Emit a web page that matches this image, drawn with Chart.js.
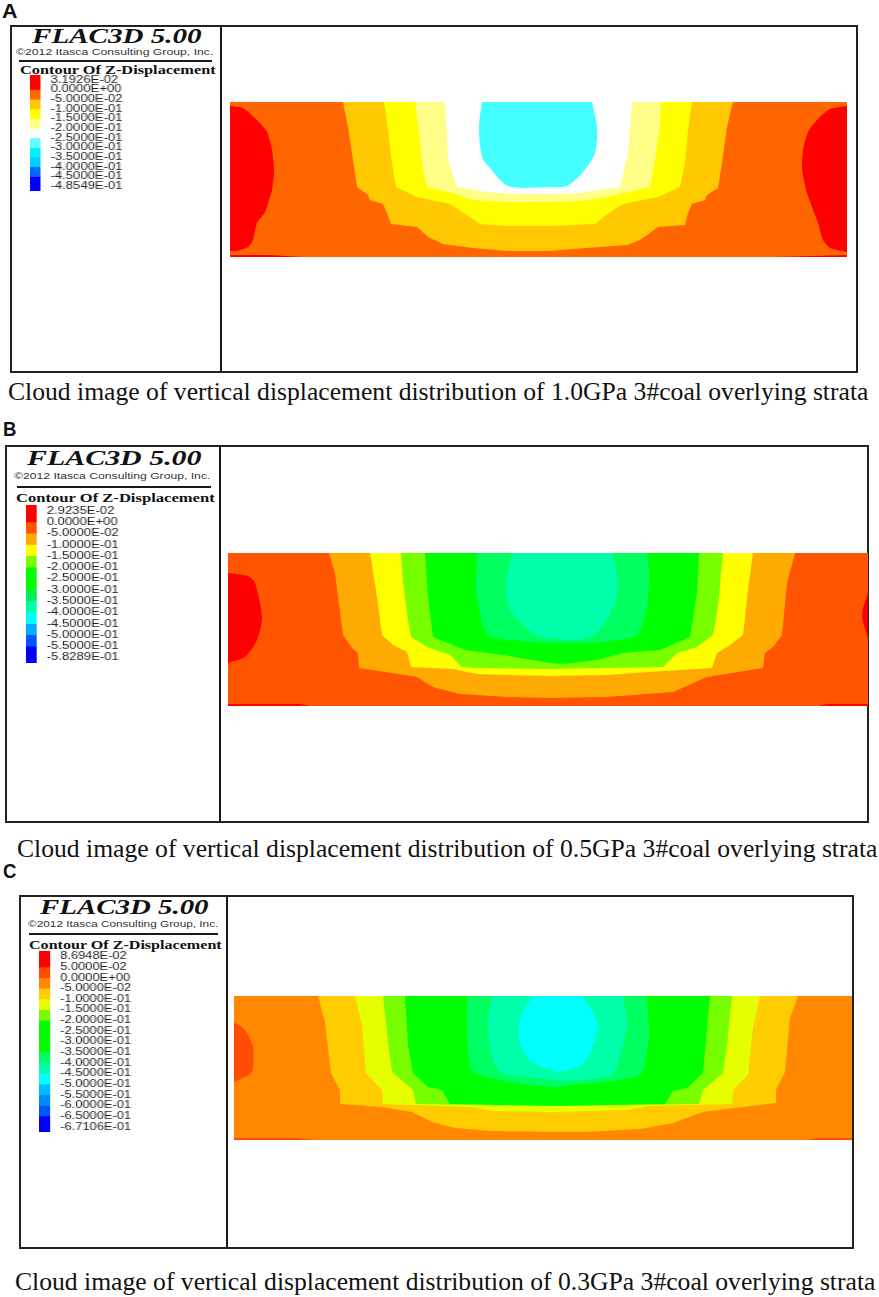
<!DOCTYPE html>
<html>
<head>
<meta charset="utf-8">
<script src="https://cdn.jsdelivr.net/npm/chart.js@4"></script>
<style>
body { margin: 0; background: #fff; }
#page { position: relative; width: 879px; height: 1297px; overflow: hidden; }
.txt { position: absolute; white-space: nowrap; line-height: 1; transform-origin: left center; color: #111; }
.letter { font: bold 20px "Liberation Sans"; }
.flac { font: italic bold 20px "Liberation Serif"; }
.copy { font: 9.5px "Liberation Sans"; color: #333; }
.head { font: bold 11.5px "Liberation Serif"; }
.caption { font: 25px "Liberation Serif"; }
.line { position: absolute; background: #1a1a1a; }
.frame { position: absolute; border: 2px solid #222; box-sizing: border-box; }
.wrap { position: absolute; transform-origin: left top; }
.plot { position: absolute; }
</style>
</head>
<body>
<div id="page"></div>
<script>
// LEGEND LABELS AND COLOURS
const labelsA = ['3.1926E-02','0.0000E+00','-5.0000E-02','-1.0000E-01','-1.5000E-01','-2.0000E-01','-2.5000E-01','-3.0000E-01','-3.5000E-01','-4.0000E-01','-4.5000E-01','-4.8549E-01'];
const coloursA = ['#ff0000','#ff6600','#ffc800','#ffff00','#ffff88','#ffffff','#66ffff','#00f0ff','#00ccff','#0066ff','#0000ff'];
const labelsB = ['2.9235E-02','0.0000E+00','-5.0000E-02','-1.0000E-01','-1.5000E-01','-2.0000E-01','-2.5000E-01','-3.0000E-01','-3.5000E-01','-4.0000E-01','-4.5000E-01','-5.0000E-01','-5.5000E-01','-5.8289E-01'];
const coloursB = ['#ff0000','#ff5500','#ffaa00','#ffff00','#77ff00','#00ff00','#00ff00','#00ee55','#00ffaa','#00ffff','#00aaff','#0055ff','#0000ff'];
const labelsC = ['8.6948E-02','5.0000E-02','0.0000E+00','-5.0000E-02','-1.0000E-01','-1.5000E-01','-2.0000E-01','-2.5000E-01','-3.0000E-01','-3.5000E-01','-4.0000E-01','-4.5000E-01','-5.0000E-01','-5.5000E-01','-6.0000E-01','-6.5000E-01','-6.7106E-01'];
const coloursC = ['#ff0000','#ff4c00','#ff8800','#ffcc00','#e6ff00','#77ff00','#00ff00','#00ff00','#00ff00','#00ff60','#00ffaa','#00ffff','#00bbff','#0088ff','#0055ff','#0000ff'];

// CONTOUR OUTLINES, panel A (model width 617, depth 155)
const a_base = [[0,0],[617,0],[617,155],[0,155]];
const a_amber = [[113,0],[118,25],[123,58],[127,85],[138,93],[140,98],[153,102],[157,111],[161,122],[187,125],[198,135],[213,142],[243,146],[277,149],[320,149],[343,147],[397,143],[410,138],[428,125],[455,123],[458,111],[462,102],[475,98],[477,93],[488,86],[492,61],[497,25],[503,0]];
const a_yellow = [[154,0],[158,28],[162,61],[166,85],[187,95],[220,102],[237,113],[250,122],[277,124],[320,124],[365,122],[380,110],[393,102],[428,95],[450,85],[455,61],[458,28],[462,0]];
const a_pale = [[185,0],[190,38],[193,68],[197,85],[223,91],[243,98],[277,100],[320,100],[353,99],[377,95],[420,85],[425,58],[430,21],[431,0]];
const a_white = [[215,0],[217,35],[218,58],[227,85],[257,90],[290,92],[320,92],[350,91],[390,85],[398,51],[402,0]];
const a_cyan = [[252,0],[249,25],[252,55],[260,66],[278,84],[320,85],[337,84],[353,70],[365,51],[367,25],[362,0]];
const a_redL = [[0,4],[13,6],[27,18],[37,30],[42,48],[44,68],[42,88],[35,110],[27,121],[23,138],[18,145],[7,149],[0,149]];
const a_redR = [[617,4],[600,7],[587,18],[578,30],[573,48],[572,68],[577,91],[588,121],[593,138],[600,146],[617,150]];
const a_stripL = [[0,153],[40,153],[73,155],[0,155]];
const a_stripR = [[545,155],[617,153],[617,155]];

// panel B (model width 640, depth 153)
const b_base = [[0,0],[640,0],[640,153],[0,153]];
const b_amber = [[101,0],[107,20],[110,44],[115,82],[124,95],[130,100],[131,115],[157,119],[189,124],[205,134],[232,141],[279,144],[322,145],[379,144],[445,139],[479,124],[510,119],[535,115],[537,100],[545,94],[554,82],[559,30],[567,0]];
const b_yellow = [[142,0],[149,44],[154,82],[165,92],[179,99],[183,114],[225,116],[249,121],[279,122],[322,123],[379,122],[420,119],[484,115],[489,100],[502,92],[515,82],[520,37],[525,0]];
const b_lime = [[173,0],[175,30],[180,67],[183,84],[199,94],[222,102],[234,114],[249,115],[322,116],[435,114],[449,100],[469,94],[485,82],[490,54],[495,0]];
const b_green = [[197,0],[200,44],[205,84],[237,97],[275,102],[322,110],[335,111],[369,107],[395,100],[432,97],[462,84],[469,40],[471,0]];
const b_spring = [[249,0],[248,37],[255,74],[262,84],[322,90],[372,89],[409,82],[419,54],[421,20],[419,0]];
const b_mint = [[284,0],[278,30],[282,57],[299,75],[312,84],[362,84],[385,55],[390,30],[384,0]];
const b_redL = [[0,20],[20,23],[27,30],[34,64],[29,87],[17,104],[0,110]];
const b_redR = [[640,40],[634,62],[640,85]];
const b_stripL = [[0,151],[72,151],[82,153],[0,153]];
const b_stripR = [[599,151],[640,151],[640,153],[590,153]];

// panel C (model width 618, depth 144)
const c_base = [[0,0],[618,0],[618,144],[0,144]];
const c_amber = [[84,0],[91,26],[97,77],[106,94],[106,108],[148,111],[178,116],[198,126],[221,132],[258,135],[321,136],[349,136],[406,133],[439,127],[469,116],[501,112],[542,107],[542,94],[551,76],[556,22],[564,0]];
const c_yellow = [[121,0],[128,29],[132,77],[148,94],[149,108],[238,111],[258,115],[321,116],[393,114],[413,110],[498,108],[499,94],[514,79],[519,32],[526,0]];
const c_lime = [[149,0],[154,46],[158,76],[171,87],[179,94],[182,108],[321,110],[465,108],[469,94],[489,77],[493,49],[498,0]];
const c_green = [[171,0],[174,49],[179,77],[194,91],[208,94],[216,108],[321,110],[431,108],[439,95],[453,92],[469,77],[476,0]];
const c_spring = [[233,0],[233,29],[238,74],[274,86],[321,91],[339,89],[386,84],[408,77],[415,39],[413,0]];
const c_mint = [[258,0],[254,29],[258,62],[268,77],[321,84],[346,84],[379,78],[389,49],[393,26],[389,0]];
const c_cyan = [[299,0],[286,22],[286,46],[298,66],[321,75],[324,76],[349,67],[361,44],[363,26],[349,0]];
const c_redL = [[0,26],[11,34],[19,51],[19,72],[16,78],[0,86]];
const c_stripL = [[0,142],[63,142],[81,144],[0,144]];
const c_stripR = [[583,142],[618,142],[618,144],[575,144]];

const page = document.getElementById('page');

function addText(str, cls, x, cy, w) {
    const el = document.createElement('div');
    el.className = 'txt ' + cls;
    el.textContent = str;
    el.style.left = x + 'px';
    page.appendChild(el);
    el.style.top = (cy - el.offsetHeight / 2) + 'px';
    el.style.transform = 'scaleX(' + (w / el.offsetWidth) + ')';
}

function addFrame(l, t, r, b, div) {
    const f = document.createElement('div');
    f.className = 'frame';
    f.style.cssText = 'left:' + l + 'px;top:' + t + 'px;width:' + (r - l) + 'px;height:' + (b - t) + 'px';
    page.appendChild(f);
    const d = document.createElement('div');
    d.className = 'line';
    d.style.cssText = 'left:' + div + 'px;top:' + t + 'px;width:2px;height:' + (b - t) + 'px';
    page.appendChild(d);
}

function addRule(x1, x2, y) {
    const d = document.createElement('div');
    d.className = 'line';
    d.style.cssText = 'left:' + x1 + 'px;top:' + y + 'px;width:' + (x2 - x1) + 'px;height:1.5px';
    page.appendChild(d);
}

// contour plot: filled closed shapes painted back to front
// third item of a band, when there, rounds the outline
function drawContours(left, top, w, h, bands) {
    const c = document.createElement('canvas');
    c.className = 'plot';
    c.style.left = left + 'px';
    c.style.top = top + 'px';
    c.width = w;
    c.height = h;
    page.appendChild(c);
    new Chart(c, {
        type: 'scatter',
        data: {
            datasets: bands.map((b, i) => ({
                data: b[0].map(p => ({ x: p[0], y: p[1] })),
                backgroundColor: b[1],
                borderWidth: 0,
                pointRadius: 0,
                showLine: true,
                tension: b[2] || 0,
                fill: 'shape',
                order: -i
            }))
        },
        options: {
            responsive: false,
            animation: false,
            layout: { padding: 0 },
            plugins: { legend: { display: false }, tooltip: { enabled: false } },
            scales: {
                x: { type: 'linear', display: false, min: 0, max: w },
                y: { type: 'linear', display: false, min: 0, max: h, reverse: true }
            }
        }
    });
}

// colour key: floating bars between label rows, labels on the y axis
function drawKey(left, top, height, labels, colours, fontSize, stretch) {
    const swatch = 11 / stretch;
    const axisW = 90;
    const wrap = document.createElement('div');
    wrap.className = 'wrap';
    wrap.style.left = left + 'px';
    wrap.style.top = (top - 8) + 'px';
    wrap.style.transform = 'scaleX(' + stretch + ')';
    const c = document.createElement('canvas');
    c.width = Math.round(swatch + axisW);
    c.height = height + 16;
    wrap.appendChild(c);
    page.appendChild(wrap);
    const last = labels.length - 1;
    new Chart(c, {
        type: 'bar',
        data: {
            labels: [''],
            datasets: colours.map((col, i) => ({
                data: [[i === 0 ? -0.5 : i, i === colours.length - 1 ? last + 0.5 : i + 1]],
                backgroundColor: col,
                borderWidth: 0,
                barPercentage: 1,
                categoryPercentage: 1
            }))
        },
        options: {
            responsive: false,
            animation: false,
            layout: { padding: { top: 8, bottom: 8 } },
            plugins: { legend: { display: false }, tooltip: { enabled: false } },
            scales: {
                x: { stacked: true, display: false },
                y: {
                    position: 'right',
                    reverse: true,
                    min: -0.5,
                    max: last + 0.5,
                    grid: { display: false, drawTicks: false },
                    border: { display: false },
                    afterFit: s => { s.width = axisW; s.paddingTop = 0; s.paddingBottom = 0; },
                    afterBuildTicks: s => { s.ticks = labels.map((l, i) => ({ value: i })); },
                    ticks: {
                        autoSkip: false,
                        padding: 10 / stretch,
                        color: '#222',
                        font: { family: 'Liberation Sans', size: fontSize },
                        callback: v => labels[v]
                    }
                }
            }
        }
    });
}

// PANEL A
addText('A', 'letter', 2, 11, 15);
addFrame(10, 25, 858, 373, 220);
addText('FLAC3D 5.00', 'flac', 32, 36, 170);
addText('©2012 Itasca Consulting Group, Inc.', 'copy', 16, 51, 197);
addRule(19, 212, 60);
addText('Contour Of Z-Displacement', 'head', 20, 70, 196);
drawKey(30, 75, 116, labelsA, coloursA, 10, 1.31);
drawContours(230, 102, 617, 155, [
    [a_base, '#ff6600'], [a_amber, '#ffc800'], [a_yellow, '#ffff00'], [a_pale, '#ffff88'],
    [a_white, '#ffffff'], [a_cyan, '#44ffff', 0.3], [a_redL, '#ff0000', 0.2], [a_redR, '#ff0000', 0.2],
    [a_stripL, '#ff0000'], [a_stripR, '#ff0000']
]);
addText('Cloud image of vertical displacement distribution of 1.0GPa 3#coal overlying strata', 'caption', 8, 391.5, 860);

// PANEL B
addText('B', 'letter', 3, 429.5, 13);
addFrame(5, 445, 869, 823, 219);
addText('FLAC3D 5.00', 'flac', 27, 458, 175);
addText('©2012 Itasca Consulting Group, Inc.', 'copy', 14, 475, 196);
addRule(17, 211, 486);
addText('Contour Of Z-Displacement', 'head', 16, 498, 199);
drawKey(25.5, 505, 158, labelsB, coloursB, 11, 1.19);
drawContours(228, 553, 640, 153, [
    [b_base, '#ff5500'], [b_amber, '#ffaa00'], [b_yellow, '#ffff00'], [b_lime, '#77ff00'],
    [b_green, '#00ff00'], [b_spring, '#00ff60', 0.2], [b_mint, '#00ffaa', 0.3], [b_redL, '#ff0000', 0.25],
    [b_redR, '#ff0000', 0.3], [b_stripL, '#ff0000'], [b_stripR, '#ff0000']
]);
addText('Cloud image of vertical displacement distribution of 0.5GPa 3#coal overlying strata', 'caption', 17, 849, 860);

// PANEL C
addText('C', 'letter', 3, 871, 13);
addFrame(19, 895, 854, 1249, 226);
addText('FLAC3D 5.00', 'flac', 40, 907, 169);
addText('©2012 Itasca Consulting Group, Inc.', 'copy', 28, 923, 190);
addRule(29, 218, 933);
addText('Contour Of Z-Displacement', 'head', 29, 945, 193);
drawKey(39, 951, 181, labelsC, coloursC, 10.5, 1.23);
drawContours(234, 996, 618, 144, [
    [c_base, '#ff8800'], [c_amber, '#ffcc00'], [c_yellow, '#e6ff00'], [c_lime, '#77ff00'],
    [c_green, '#00ff00'], [c_spring, '#00ff60', 0.2], [c_mint, '#00ffaa', 0.25], [c_cyan, '#00ffff', 0.3],
    [c_redL, '#ff4c00', 0.25], [c_stripL, '#ff4c00'], [c_stripR, '#ff4c00']
]);
addText('Cloud image of vertical displacement distribution of 0.3GPa 3#coal overlying strata', 'caption', 15, 1282, 860);
</script>
</body>
</html>
